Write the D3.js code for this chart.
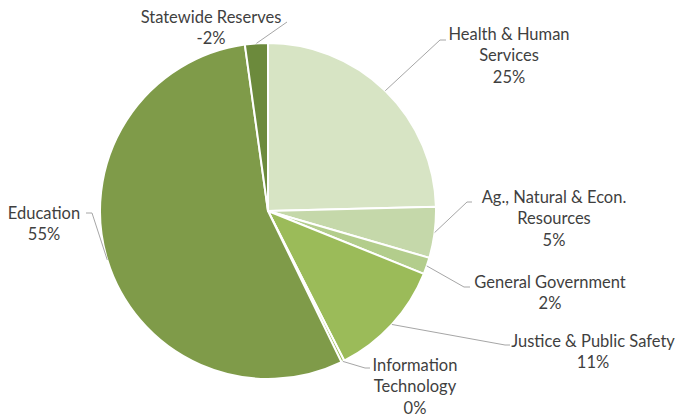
<!DOCTYPE html>
<html><head><meta charset="utf-8">
<script src="https://cdn.jsdelivr.net/npm/d3@7"></script>
<style>body{margin:0;background:#fff}svg{display:block}</style>
</head><body>
<svg id="c" width="676" height="419"></svg>
<script>
const categories = ["Health & Human Services","Ag., Natural & Econ. Resources","General Government","Justice & Public Safety","Information Technology","Education","Statewide Reserves"];
const labelLines = [["Health & Human","Services"],["Ag., Natural & Econ.","Resources"],["General Government"],["Justice & Public Safety"],["Information","Technology"],["Education"],["Statewide Reserves"]];
const values = [24.6, 4.9, 1.6, 11.4, 0.3, 55.0, -2.2];
const colors = ["#d7e4c4","#c5d8aa","#b3cd8c","#9bbb59","#9bbb59","#7f9b49","#6c8a3c"];

// layout for labels: text center x, first line center y, elbow point, end point
const labelLayout = [
  {x:509, y:34, elbow:[440,40], end:[446,40]},
  {x:554, y:197, elbow:[467,202], end:[472,202]},
  {x:550, y:282, elbow:[464,287], end:[470,287]},
  {x:593, y:341, elbow:[505,345], end:[510,345]},
  {x:415, y:365, elbow:[365,368], end:[370,368]},
  {x:44, y:213, elbow:[92,213], end:[86,213]},
  {x:211, y:17, elbow:[287,22], end:[287,22]}
];

const svg = d3.select("#c");
const cx = 268, cy = 211, R = 168;
const data = categories.map((c,i)=>({cat:c, v:values[i], i}));
const pie = d3.pie().sort(null).value(d=>Math.abs(d.v));
const arcs = pie(data);
const arc = d3.arc().innerRadius(0).outerRadius(R);
const g = svg.append("g").attr("transform",`translate(${cx},${cy})`);
g.selectAll("path").data(arcs).join("path")
  .attr("d", arc)
  .attr("fill", d=>colors[d.data.i])
  .attr("stroke","#fff").attr("stroke-width",2).attr("stroke-linejoin","round");

// leader lines
arcs.forEach(a=>{
  const m = (a.startAngle + a.endAngle)/2;
  const sx = cx + R*Math.sin(m), sy = cy - R*Math.cos(m);
  const L = labelLayout[a.data.i];
  svg.append("polyline")
    .attr("points", [[sx,sy],L.elbow,L.end].map(p=>p.join(",")).join(" "))
    .attr("fill","none").attr("stroke","#a6a6a6").attr("stroke-width",1);
});

// labels
arcs.forEach(a=>{
  const L = labelLayout[a.data.i];
  const lines = labelLines[a.data.i].concat([Math.round(a.data.v)+"%"]);
  const t = svg.append("text")
    .attr("text-anchor","middle")
    .attr("font-family","Lato, 'Open Sans', sans-serif")
    .attr("font-size",16.5).attr("fill","#3f3f3f");
  lines.forEach((ln,k)=>{
    t.append("tspan").attr("x",L.x).attr("y",L.y + k*21.5).attr("dy","0.35em").text(ln);
  });
});
</script>
</body></html>
